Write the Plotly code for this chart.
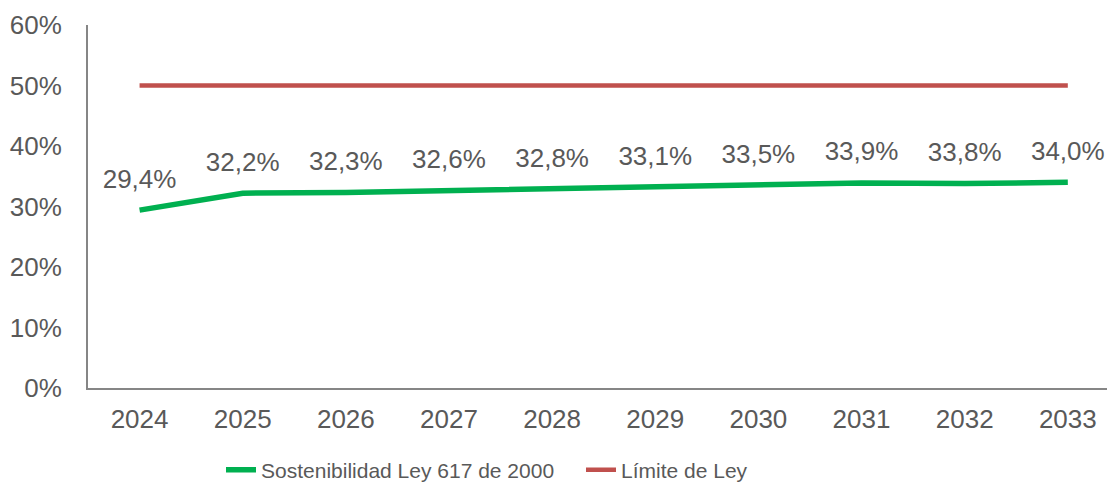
import plotly.graph_objects as go

years = ["2024", "2025", "2026", "2027", "2028", "2029", "2030", "2031", "2032", "2033"]
sostenibilidad = [29.4, 32.2, 32.3, 32.6, 32.8, 33.1, 33.5, 33.9, 33.8, 34.0]
limite = [50, 50, 50, 50, 50, 50, 50, 50, 50, 50]
y_ticks = [0, 10, 20, 30, 40, 50, 60]

GREEN = "#00B050"
RED = "#C0504D"
TEXT = "#595959"
AXIS = "#868686"
FONT = "Liberation Sans, Arial, sans-serif"

labels = [f"{v:.1f}%".replace(".", ",") for v in sostenibilidad]

fig = go.Figure()
fig.add_trace(go.Scatter(
    x=years, y=sostenibilidad, mode="lines",
    name="Sostenibilidad Ley 617 de 2000",
    line=dict(color=GREEN, width=5.5),
))
fig.add_trace(go.Scatter(
    x=years, y=limite, mode="lines",
    name="Límite de Ley",
    line=dict(color=RED, width=4.5),
))
# value labels above the green series (transparent markers set the gap)
fig.add_trace(go.Scatter(
    x=years, y=sostenibilidad, mode="markers+text",
    marker=dict(size=24, opacity=0),
    text=labels, textposition="top center",
    textfont=dict(family=FONT, size=26, color=TEXT),
    showlegend=False, hoverinfo="skip",
))

fig.update_layout(
    width=1107, height=485,
    margin=dict(l=88, r=0, t=25, b=97, autoexpand=False),
    paper_bgcolor="white", plot_bgcolor="white",
    font=dict(family=FONT, size=26, color=TEXT),
    showlegend=True,
    legend=dict(
        orientation="h", x=(221 - 88) / 1019, xanchor="left",
        yref="container", y=1 - 470 / 485, yanchor="middle",
        entrywidth=315,
        font=dict(family=FONT, size=21, color=TEXT),
        bgcolor="rgba(0,0,0,0)",
    ),
)
fig.update_xaxes(
    type="category", range=[-0.5, 9.38],
    showline=True, linecolor=AXIS, linewidth=2,
    showgrid=False, zeroline=False, ticks="",
    ticklabelstandoff=7,
    tickfont=dict(family=FONT, size=26, color=TEXT),
)
fig.update_yaxes(
    range=[0, 60], tickvals=y_ticks,
    ticktext=[f"{t}%" for t in y_ticks],
    showline=True, linecolor=AXIS, linewidth=2,
    showgrid=False, zeroline=False, ticks="",
    ticklabelstandoff=19,
    tickfont=dict(family=FONT, size=26, color=TEXT),
)

fig.write_html("out.html")
